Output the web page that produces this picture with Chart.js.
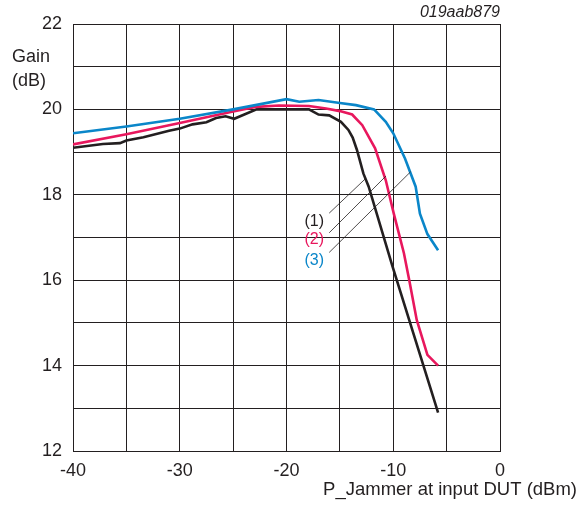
<!DOCTYPE html>
<html><head><meta charset="utf-8">
<script src="https://cdn.jsdelivr.net/npm/chart.js@4"></script>
<style>html,body{margin:0;padding:0;background:#fff}</style>
</head><body>
<canvas id="c" width="587" height="507" style="width:587px;height:507px;display:block"></canvas>
<script>
// Curve (1) black
const curve1X = [-40, -37.2, -35.6, -35, -33.4, -31, -30, -28.8, -27.5, -26.6, -25.7, -24.9, -22.8, -17.9, -17, -16, -14.9, -14.2, -13.8, -13.4, -12.8, -12.3, -10.1, -5.8];
const curve1Y = [19.1, 19.19, 19.21, 19.27, 19.35, 19.5, 19.55, 19.65, 19.7, 19.8, 19.84, 19.78, 20.0, 20.0, 19.88, 19.86, 19.71, 19.52, 19.34, 19.05, 18.5, 18.19, 16.35, 12.9];
// Curve (2) red
const curve2X = [-40, -35, -30, -25, -22.8, -20.7, -17.9, -16.3, -15, -13.85, -12.9, -11.7, -10.7, -9.95, -9.0, -8.5, -7.8, -6.8, -5.8];
const curve2Y = [19.18, 19.42, 19.68, 19.95, 20.06, 20.09, 20.08, 20.02, 19.96, 19.88, 19.63, 19.09, 18.34, 17.56, 16.63, 16.0, 15.07, 14.25, 14.0];
// Curve (3) blue
const curve3X = [-40, -35, -30, -25, -20, -18.8, -17, -15, -13.5, -11.8, -10.7, -10, -8.9, -7.9, -7.5, -6.8, -5.8];
const curve3Y = [19.44, 19.6, 19.78, 20.0, 20.24, 20.18, 20.22, 20.15, 20.1, 20.0, 19.71, 19.44, 18.85, 18.19, 17.56, 17.08, 16.7];

const seriesLabels = ['(1)', '(2)', '(3)'];
const seriesColors = ['#231f20', '#e8175d', '#0a86c9'];
const labelX = -17.4;
const labelY = [17.38, 16.94, 16.47];
const leaderStartX = -16.0;
const leaderStartY = [17.57, 17.11, 16.65];
const leaderEndX = [-12.55, -10.68, -8.37];
const leaderEndY = [18.39, 18.44, 18.54];

const xTicksShown = [-40, -30, -20, -10, 0];
const yTicksShown = [12, 14, 16, 18, 20, 22];

const chartId = '019aab879';
const yTitle = ['Gain', '(dB)'];
const xTitle = 'P_Jammer at input DUT (dBm)';

const FONT = "'Liberation Sans', Arial, sans-serif";
const INK = '#231f20';

function pts(xs, ys) { return xs.map((x, i) => ({x: x, y: ys[i]})); }

const datasets = [];
[[curve1X, curve1Y], [curve2X, curve2Y], [curve3X, curve3Y]].forEach((c, i) => {
  datasets.push({data: pts(c[0], c[1]), borderColor: seriesColors[i], borderWidth: 2.6, pointRadius: 0, tension: 0, fill: false, order: 3 - i});
});
for (let i = 0; i < 3; i++) {
  datasets.push({data: [{x: leaderStartX, y: leaderStartY[i]}, {x: leaderEndX[i], y: leaderEndY[i]}], borderColor: INK, borderWidth: 0.8, pointRadius: 0, fill: false, order: 0});
}

const textPlugin = {
  id: 'texts',
  afterDraw(chart) {
    const ctx = chart.ctx;
    const xs = chart.scales.x, ys = chart.scales.y;
    ctx.save();
    ctx.fillStyle = INK;
    ctx.font = '18px ' + FONT;
    ctx.textAlign = 'left';
    ctx.textBaseline = 'middle';
    ctx.fillText(yTitle[0], 12, 57);
    ctx.fillText(yTitle[1], 12, 81);
    ctx.textAlign = 'right';
    ctx.font = '18.5px ' + FONT;
    ctx.fillText(xTitle, 577, 490);
    ctx.font = 'italic 16px ' + FONT;
    ctx.fillText(chartId, xs.right, 13);
    ctx.font = '16px ' + FONT;
    ctx.textAlign = 'center';
    for (let i = 0; i < 3; i++) {
      ctx.fillStyle = seriesColors[i];
      ctx.fillText(seriesLabels[i], xs.getPixelForValue(labelX), ys.getPixelForValue(labelY[i]));
    }
    ctx.restore();
  }
};

new Chart(document.getElementById('c'), {
  type: 'line',
  data: {datasets: datasets},
  options: {
    responsive: false,
    devicePixelRatio: 1,
    animation: false,
    events: [],
    layout: {padding: {top: 24, right: 87, left: 0, bottom: 0}},
    plugins: {legend: {display: false}, tooltip: {enabled: false}},
    scales: {
      x: {
        type: 'linear', min: -40, max: 0,
        afterFit(s) { s.height = 56; },
        afterBuildTicks(s) { s.ticks = []; for (let v = -40; v <= 0; v += 5) s.ticks.push({value: v}); },
        ticks: {autoSkip: false, maxRotation: 0, padding: 9, color: INK, font: {size: 18, family: FONT},
          callback: v => xTicksShown.includes(v) ? String(v) : ''},
        grid: {color: INK, lineWidth: 1, drawTicks: false},
        border: {color: INK, width: 1}
      },
      y: {
        type: 'linear', min: 12, max: 22,
        afterFit(s) { s.width = 73; },
        afterBuildTicks(s) { s.ticks = []; for (let v = 12; v <= 22; v += 1) s.ticks.push({value: v}); },
        ticks: {autoSkip: false, padding: 11, color: INK, font: {size: 18, family: FONT},
          callback: v => yTicksShown.includes(v) ? String(v) : ''},
        grid: {color: INK, lineWidth: 1, drawTicks: false},
        border: {color: INK, width: 1}
      }
    }
  },
  plugins: [textPlugin]
});
</script>
</body></html>
